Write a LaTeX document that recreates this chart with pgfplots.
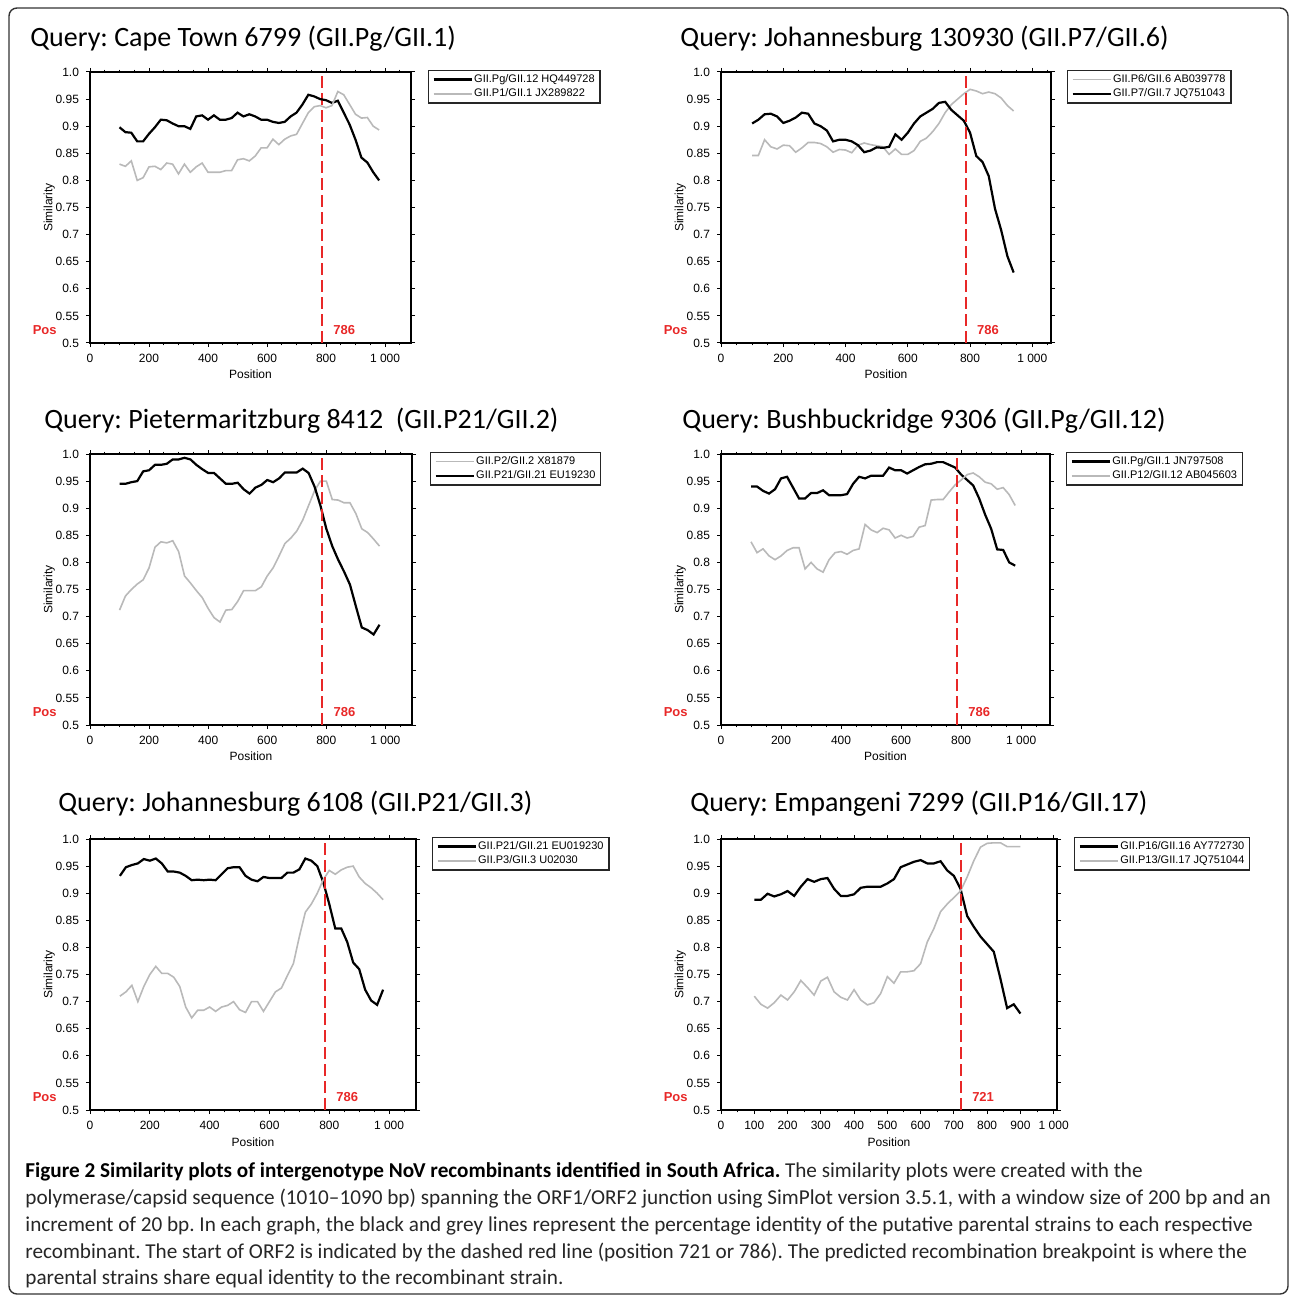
\documentclass[border=0pt]{standalone}
\usepackage{fontspec}
\setmainfont{Liberation Sans}
\newfontfamily\titlefont{Carlito}
\usepackage{pgfplots}
\usepackage{pgfplotstable}
\pgfplotsset{compat=1.18}
\frenchspacing

\definecolor{simgray}{RGB}{185,185,185}
\definecolor{posred}{RGB}{232,40,40}

% x = position, b = black series, g = grey series
\pgfplotstableread{
x b g
100 0.898 0.830
120 0.889 0.826
140 0.888 0.836
160 0.872 0.800
180 0.872 0.805
200 0.886 0.825
220 0.898 0.826
240 0.912 0.820
260 0.911 0.832
280 0.905 0.830
300 0.900 0.812
320 0.900 0.830
340 0.895 0.815
360 0.918 0.825
380 0.920 0.832
400 0.912 0.815
420 0.920 0.815
440 0.912 0.815
460 0.912 0.818
480 0.915 0.818
500 0.925 0.838
520 0.918 0.840
540 0.922 0.836
560 0.918 0.845
580 0.912 0.860
600 0.912 0.860
620 0.908 0.876
640 0.906 0.866
660 0.908 0.876
680 0.918 0.882
700 0.925 0.885
720 0.940 0.905
740 0.958 0.925
760 0.955 0.936
780 0.950 0.938
800 0.948 0.934
820 0.943 0.938
840 0.947 0.964
860 0.925 0.958
880 0.903 0.940
900 0.875 0.922
920 0.842 0.915
940 0.833 0.916
960 0.815 0.900
980 0.800 0.893
}\capetown

\pgfplotstableread{
x g b
100 0.846 0.905
120 0.846 0.912
140 0.875 0.922
160 0.862 0.923
180 0.858 0.918
200 0.865 0.906
220 0.864 0.910
240 0.852 0.916
260 0.860 0.925
280 0.870 0.923
300 0.870 0.905
320 0.868 0.900
340 0.862 0.892
360 0.852 0.872
380 0.857 0.875
400 0.856 0.875
420 0.851 0.872
440 0.865 0.865
460 0.869 0.852
480 0.866 0.855
500 0.864 0.861
520 0.862 0.860
540 0.848 0.862
560 0.858 0.885
580 0.848 0.875
600 0.848 0.888
620 0.855 0.905
640 0.872 0.918
660 0.878 0.925
680 0.890 0.932
700 0.905 0.943
720 0.925 0.945
740 0.940 0.930
760 0.950 0.920
780 0.960 0.910
800 0.968 0.888
820 0.965 0.845
840 0.960 0.834
860 0.963 0.808
880 0.960 0.748
900 0.952 0.708
920 0.938 0.660
940 0.928 0.630
}\johaA

\pgfplotstableread{
x g b
100 0.712 0.945
120 0.738 0.945
140 0.750 0.948
160 0.760 0.950
180 0.768 0.968
200 0.790 0.970
220 0.828 0.980
240 0.838 0.980
260 0.836 0.982
280 0.840 0.990
300 0.820 0.990
320 0.775 0.993
340 0.762 0.990
360 0.748 0.980
380 0.735 0.972
400 0.715 0.965
420 0.698 0.965
440 0.690 0.955
460 0.712 0.945
480 0.713 0.945
500 0.728 0.947
520 0.748 0.935
540 0.748 0.927
560 0.748 0.938
580 0.755 0.943
600 0.775 0.952
620 0.790 0.948
640 0.812 0.955
660 0.835 0.966
680 0.845 0.966
700 0.858 0.966
720 0.878 0.973
740 0.905 0.965
760 0.932 0.940
780 0.950 0.905
800 0.950 0.862
820 0.916 0.830
840 0.915 0.805
860 0.910 0.783
880 0.910 0.759
900 0.890 0.719
920 0.862 0.680
940 0.855 0.675
960 0.843 0.667
980 0.830 0.685
}\pmb

\pgfplotstableread{
x b g
100 0.940 0.838
120 0.940 0.818
140 0.932 0.825
160 0.927 0.812
180 0.935 0.805
200 0.955 0.812
220 0.958 0.822
240 0.938 0.827
260 0.918 0.827
280 0.918 0.788
300 0.928 0.800
320 0.928 0.788
340 0.933 0.782
360 0.924 0.805
380 0.924 0.818
400 0.924 0.820
420 0.926 0.815
440 0.945 0.822
460 0.958 0.825
480 0.955 0.870
500 0.960 0.860
520 0.960 0.855
540 0.960 0.863
560 0.975 0.860
580 0.970 0.845
600 0.970 0.850
620 0.964 0.845
640 0.970 0.848
660 0.976 0.865
680 0.981 0.868
700 0.982 0.915
720 0.985 0.916
740 0.985 0.916
760 0.980 0.930
780 0.975 0.943
800 0.962 0.952
820 0.952 0.962
840 0.942 0.965
860 0.918 0.958
880 0.888 0.948
900 0.862 0.945
920 0.824 0.935
940 0.823 0.938
960 0.800 0.925
980 0.794 0.905
}\bushbuck

\pgfplotstableread{
x b g
100 0.932 0.710
120 0.948 0.718
140 0.952 0.730
160 0.955 0.700
180 0.963 0.728
200 0.960 0.750
220 0.964 0.765
240 0.955 0.752
260 0.940 0.752
280 0.940 0.745
300 0.938 0.728
320 0.932 0.690
340 0.924 0.670
360 0.925 0.684
380 0.924 0.684
400 0.925 0.690
420 0.924 0.682
440 0.935 0.690
460 0.946 0.693
480 0.948 0.700
500 0.948 0.685
520 0.932 0.680
540 0.925 0.700
560 0.922 0.700
580 0.930 0.682
600 0.928 0.700
620 0.928 0.718
640 0.928 0.725
660 0.938 0.748
680 0.938 0.770
700 0.944 0.820
720 0.964 0.865
740 0.960 0.880
760 0.950 0.900
780 0.920 0.925
800 0.880 0.942
820 0.835 0.935
840 0.835 0.943
860 0.810 0.948
880 0.772 0.950
900 0.760 0.930
920 0.722 0.918
940 0.702 0.910
960 0.694 0.900
980 0.722 0.888
}\johaB

\pgfplotstableread{
x b g
100 0.888 0.710
120 0.888 0.695
140 0.899 0.688
160 0.894 0.698
180 0.898 0.712
200 0.904 0.703
220 0.895 0.718
240 0.912 0.739
260 0.926 0.726
280 0.921 0.712
300 0.926 0.738
320 0.928 0.745
340 0.908 0.718
360 0.895 0.708
380 0.895 0.703
400 0.898 0.722
420 0.910 0.703
440 0.912 0.694
460 0.912 0.698
480 0.912 0.715
500 0.918 0.746
520 0.926 0.734
540 0.948 0.755
560 0.953 0.755
580 0.958 0.757
600 0.961 0.770
620 0.955 0.810
640 0.955 0.835
660 0.959 0.866
680 0.942 0.880
700 0.932 0.892
720 0.908 0.904
740 0.858 0.930
760 0.838 0.960
780 0.820 0.985
800 0.806 0.992
820 0.792 0.993
840 0.742 0.993
860 0.688 0.986
880 0.695 0.986
900 0.678 0.986
}\empangeni

\tikzset{
  redlab/.style={posred, inner sep=0, font=\bfseries\fontsize{6.5}{7}\selectfont},
}
\pgfplotsset{
  sim/.style={
    scale only axis, height=135.5pt, anchor=north west, clip=false,
    xmin=0, ymin=0.5, ymax=1,
    ytick={0.5,0.55,0.6,0.65,0.7,0.75,0.8,0.85,0.9,0.95,1},
    yticklabels={0.5,0.55,0.6,0.65,0.7,0.75,0.8,0.85,0.9,0.95,1.0},
    xtick={0,200,400,600,800,1000},
    xticklabels={0,200,400,600,800,1\ 000},
    minor xtick={0,50,...,1100},
    tick align=outside, major tick length=2pt, minor tick length=1.2pt,
    every tick/.style={black, line width=0.5pt},
    axis line style={line width=0.8pt},
    /pgf/number format/assume math mode=true,
    tick label style={font=\fontsize{6}{7}\selectfont},
    label style={font=\fontsize{6}{7}\selectfont},
    xlabel={Position}, ylabel={Similarity},
    xlabel shift=-3pt, ylabel shift=-6.5pt,
    legend style={anchor=north west, draw=black!85, line width=0.6pt,
      font=\fontsize{5.5}{6}\selectfont, inner xsep=2pt, inner ysep=1pt,
      row sep=0.4pt, cells={anchor=west}, nodes={inner sep=0.7pt}},
    legend image code/.code={\draw[#1] (0pt,0pt) -- (19pt,0pt);},
  },
  blk/.style={draw=black, line width=1.1pt},
  gry/.style={draw=simgray, line width=0.8pt},
  orf/.style={draw=posred, color=posred, line width=0.8pt, dash pattern=on 6pt off 2.5pt, forget plot},
}

\begin{document}
\begin{tikzpicture}
\path[use as bounding box] (0,0) rectangle (645pt,-647.5pt);
\draw[rounded corners=4pt, line width=0.7pt, black!80] (4.5pt,-4pt) rectangle (644pt,-647pt);

% titles
\begin{scope}[every node/.style={anchor=base west, inner sep=0, font=\titlefont\fontsize{14}{16}\selectfont}]
\node at (15pt,-23.5pt) {Query: Cape Town 6799 (GII.Pg/GII.1)};
\node at (340pt,-23.5pt) {Query: Johannesburg 130930 (GII.P7/GII.6)};
\node at (22pt,-214pt) {Query: Pietermaritzburg 8412\ \ (GII.P21/GII.2)};
\node at (341pt,-214pt) {Query: Bushbuckridge 9306 (GII.Pg/GII.12)};
\node at (29pt,-405.5pt) {Query: Johannesburg 6108 (GII.P21/GII.3)};
\node at (345pt,-405.5pt) {Query: Empangeni 7299 (GII.P16/GII.17)};
\end{scope}

% Cape Town
\begin{axis}[sim, at={(45pt,-36pt)}, width=160.5pt, xmax=1088,
  legend style={at={(1.053,1.007)}}]
\addplot[orf, draw=posred] coordinates {(786,0.5) (786,1)};
\addplot[blk] table[x=x,y=b] {\capetown};
\addplot[gry] table[x=x,y=g] {\capetown};
\legend{GII.Pg/GII.12 HQ449728, GII.P1/GII.1 JX289822}
\node[redlab, anchor=east] at ([xshift=-16.5pt]rel axis cs:0,0.048) {Pos};
\node[redlab, anchor=west] at ([xshift=5.5pt]axis cs:786,0.524) {786};
\end{axis}

% Johannesburg 130930
\begin{axis}[sim, at={(360.5pt,-36pt)}, width=165pt, xmax=1060,
  legend style={at={(1.048,1.007)}}]
\addplot[gry] table[x=x,y=g] {\johaA};
\addplot[blk] table[x=x,y=b] {\johaA};
\addplot[orf] coordinates {(786,0.5) (786,1)};
\legend{GII.P6/GII.6 AB039778, GII.P7/GII.7 JQ751043}
\node[redlab, anchor=east] at ([xshift=-16.5pt]rel axis cs:0,0.048) {Pos};
\node[redlab, anchor=west] at ([xshift=5.5pt]axis cs:786,0.524) {786};
\end{axis}

% Pietermaritzburg 8412
\begin{axis}[sim, at={(45pt,-227pt)}, width=161pt, xmax=1090,
  legend style={at={(1.056,1.007)}}]
\addplot[gry] table[x=x,y=g] {\pmb};
\addplot[blk] table[x=x,y=b] {\pmb};
\addplot[orf] coordinates {(786,0.5) (786,1)};
\legend{GII.P2/GII.2 X81879, GII.P21/GII.21 EU19230}
\node[redlab, anchor=east] at ([xshift=-16.5pt]rel axis cs:0,0.048) {Pos};
\node[redlab, anchor=west] at ([xshift=5.5pt]axis cs:786,0.524) {786};
\end{axis}

% Bushbuckridge 9306
\begin{axis}[sim, at={(360.5pt,-227pt)}, width=164.5pt, xmax=1096,
  legend style={at={(1.049,1.007)}}]
\addplot[blk] table[x=x,y=b] {\bushbuck};
\addplot[gry] table[x=x,y=g] {\bushbuck};
\addplot[orf] coordinates {(786,0.5) (786,1)};
\legend{GII.Pg/GII.1 JN797508, GII.P12/GII.12 AB045603}
\node[redlab, anchor=east] at ([xshift=-16.5pt]rel axis cs:0,0.048) {Pos};
\node[redlab, anchor=west] at ([xshift=5.5pt]axis cs:786,0.524) {786};
\end{axis}

% Johannesburg 6108
\begin{axis}[sim, at={(45pt,-419.5pt)}, width=163pt, xmax=1090,
  legend style={at={(1.049,1.007)}}]
\addplot[blk] table[x=x,y=b] {\johaB};
\addplot[gry] table[x=x,y=g] {\johaB};
\addplot[orf] coordinates {(786,0.5) (786,1)};
\legend{GII.P21/GII.21 EU019230, GII.P3/GII.3 U02030}
\node[redlab, anchor=east] at ([xshift=-16.5pt]rel axis cs:0,0.048) {Pos};
\node[redlab, anchor=west] at ([xshift=5.5pt]axis cs:786,0.524) {786};
\end{axis}

% Empangeni 7299
\begin{axis}[sim, at={(360.5pt,-419.5pt)}, width=168pt, xmax=1010,
  xtick={0,100,...,1000},
  xticklabels={0,100,200,300,400,500,600,700,800,900,1\ 000},
  legend style={at={(1.051,1.007)}}]
\addplot[blk] table[x=x,y=b] {\empangeni};
\addplot[gry] table[x=x,y=g] {\empangeni};
\addplot[orf] coordinates {(721,0.5) (721,1)};
\legend{GII.P16/GII.16 AY772730, GII.P13/GII.17 JQ751044}
\node[redlab, anchor=east] at ([xshift=-16.5pt]rel axis cs:0,0.048) {Pos};
\node[redlab, anchor=west] at ([xshift=5.5pt]axis cs:721,0.524) {721};
\end{axis}

% caption
\begin{scope}[every node/.style={anchor=base west, inner sep=0, text=black!85, font=\titlefont\fontsize{10.6}{12}\selectfont}]
\node at (12.5pt,-588.5pt) {\textbf{\color{black}Figure 2 Similarity plots of intergenotype NoV recombinants identified in South Africa.} The similarity plots were created with the};
\node at (12.5pt,-602pt) {polymerase/capsid sequence (1010–1090 bp) spanning the ORF1/ORF2 junction using SimPlot version 3.5.1, with a window size of 200 bp and an};
\node at (12.5pt,-615.5pt) {increment of 20 bp. In each graph, the black and grey lines represent the percentage identity of the putative parental strains to each respective};
\node at (12.5pt,-629pt) {recombinant. The start of ORF2 is indicated by the dashed red line (position 721 or 786). The predicted recombination breakpoint is where the};
\node at (12.5pt,-642pt) {parental strains share equal identity to the recombinant strain.};
\end{scope}
\end{tikzpicture}
\end{document}
